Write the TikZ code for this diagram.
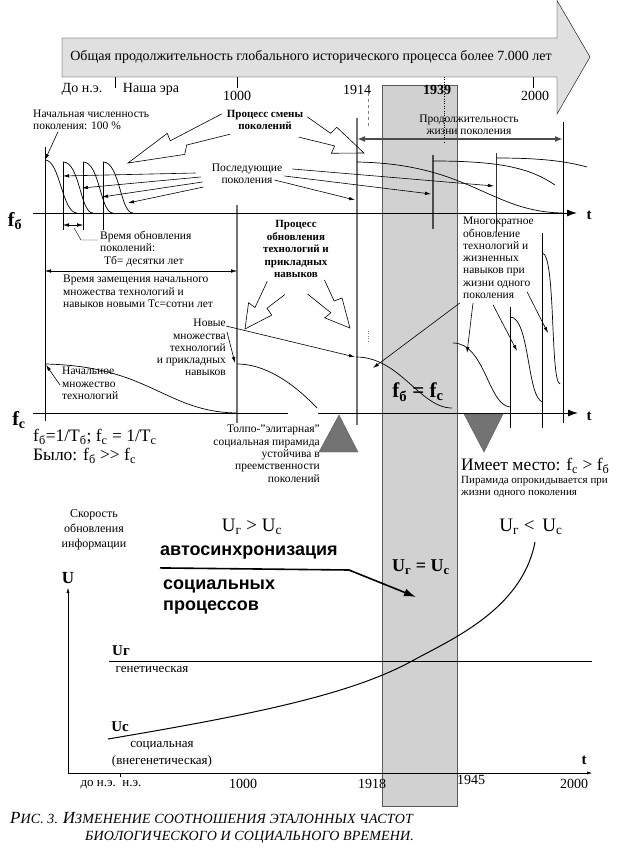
\documentclass[tikz,border=0pt]{standalone}
\usepackage{fontspec}
\setmainfont{Liberation Serif}
\newfontfamily\sansbold{Liberation Sans}
\usetikzlibrary{arrows.meta}
\usetikzlibrary{calc}
\usetikzlibrary{positioning}

\begin{document}
\begin{tikzpicture}[x=1pt, y=-1pt,
  >={Latex[length=6pt,width=3.5pt]},
  lbl/.style={font=\fontsize{11.5}{12.3}\selectfont, inner sep=0pt},
  low/.style={font=\fontsize{13}{15}\selectfont, inner sep=0pt},
  blbl/.style={font=\fontsize{11}{12.5}\selectfont\bfseries, inner sep=0pt, align=center},
  big/.style={font=\fontsize{17.5}{20}\selectfont, inner sep=0pt},
  yr/.style={font=\fontsize{14}{16}\selectfont, inner sep=0pt},
  axlbl/.style={font=\fontsize{20}{22}\selectfont\bfseries, inner sep=0pt},
  tlbl/.style={font=\fontsize{15}{17}\selectfont\bfseries, inner sep=0pt},
  ptr/.style={->, line width=0.6pt},
  ax/.style={-{Latex[length=10pt,width=7pt]}, line width=1pt},
  gline/.style={black!55, line width=1.2pt},
  curve/.style={line width=0.7pt},
  bolt/.style={draw, line width=0.6pt, line join=miter},
  pyr/.style={fill=black!55, draw=black!65}]

\useasboundingbox (0,0) rectangle (621,853);
\fill[white] (0,0) rectangle (621,853);

%period 1918-1945
\draw[draw=black!65, fill=black!18] (382,85) rectangle (457,806);

%time arrow
\draw[fill=black!12] (62,38) -- (557,38) -- (557,0.5) -- (590,57) -- (557,114) -- (557,77) -- (62,77) -- cycle;
\node (total) at (311,57) {\fontsize{14}{16}\selectfont Общая продолжительность глобального исторического процесса более 7.000 лет};
\foreach \x in {115,237,533}
  \draw (\x,77) -- (\x,88);
\node[yr] (bc) at (82,89) {До н.э.};
\node[yr] (ad) at (151,89) {Наша эра};
\node[yr] (y1000) at (237,96) {1000};
\node[yr] (y1914) at (357,90) {1914};
\node[yr, font=\fontsize{14}{16}\selectfont\bfseries] (y1939) at (437,90) {1939};
\node[yr] (y2000) at (535,96) {2000};
\draw[dashed, black!50] (368,93) -- (368,127);
\draw[dotted] (444,77) -- (444,142);

%life of a generation
\node[lbl, align=center] (life) at (469,125) {Продолжительность\\жизни поколения};
\coordinate (l1) at (357,139);
\coordinate (l2) at (563,139);
\draw[{Latex[length=8pt,width=6pt]}-{Latex[length=8pt,width=6pt]}, line width=1.6pt, black!70] (l1) -- (l2);

%verticals
\draw[gline] (357,118) -- (357,425);
\draw[gline] (237,205) -- (237,423);
\draw (563,122) -- (563,423);
\draw[black!70, line width=1.2pt] (433,155) -- (433,229);
\draw[black!80] (496,153) -- (496,232);
\draw (45,147) -- (45,421);
\foreach \x in {63,83,103}
  \draw (\x,162) -- (\x,230);
\draw (510,307) -- (510,428);
\draw (542,233) -- (542,428);

%axes f
\draw[ax] (33,213) -- (577,213);
\node[tlbl] (t1) at (589,215) {t};
\node[axlbl] (fb) at (15,221) {f\textsubscript{б}};
\draw[line width=1pt] (33,413) -- (288,413);
\draw[ax] (318,413) -- (578,413);
\node[tlbl] (t2) at (589,416) {t};
\node[axlbl] (fc) at (19,420) {f\textsubscript{с}};

%generations
\draw[curve] (45,160) .. controls (60,160) and (62,213) .. (77,213);
\foreach \s in {63,83,103}
  \draw[curve] (\s,162) .. controls ({\s+17},162) and ({\s+17},213) .. ({\s+30},213);
\draw[curve] (357,162) .. controls (470,164) and (490,212) .. (563,213);
\draw[curve] (433,161) .. controls (500,161) and (530,168) .. (555,185);
\draw[curve] (496,158) .. controls (540,158) and (565,161) .. (587,167);

%technologies
\draw[curve] (45,364) .. controls (150,366) and (165,412) .. (237,413);
\draw[curve] (237,364) .. controls (270,364) and (300,390) .. (317,408);
\draw[curve] (356,357) .. controls (400,357) and (420,408) .. (452,408);
\draw[curve] (453,343) .. controls (485,343) and (488,405) .. (510,407);
\draw[curve] (510,317) .. controls (530,317) and (527,400) .. (543,402);
\draw[curve] (542,253) .. controls (556,253) and (550,382) .. (560,384);
\draw[dotted, black!50] (368,331) -- (368,343);

%pyramids
\draw[pyr] (339,415) -- (358,452) -- (319,452) -- cycle;
\draw[pyr] (464,414) -- (503,414) -- (484,452) -- cycle;

%lightning arrows
\foreach \sx/\sy/\tx/\ty in {226/124/128/163, 303/127/364/153, 276/288/245/329, 316/287/350/328} {
  \coordinate (bs) at (\sx,\sy);
  \coordinate (bt) at (\tx,\ty);
  \draw[bolt] ($(bs)!11pt!90:(bt)$) -- ($(bs)!.42!(bt)!5pt!90:(bt)$) -- ($(bs)!.47!(bt)!13pt!90:(bt)$)
    -- (bt) -- ($(bs)!.55!(bt)!13pt!-90:(bt)$) -- ($(bs)!.55!(bt)!5pt!-90:(bt)$) -- ($(bs)!11pt!-90:(bt)$);
}

%labels upper part
\node[lbl, align=left, anchor=west] (init) at (33,119.5) {Начальная численность\\поколения: 100~\%};
\coordinate (c0) at (45,160);
\draw[ptr] ([shift={(25,2)}]init.south west) -- (c0);
\node[blbl] (smena) at (265,120) {Процесс смены\\поколений};
\node[lbl, align=center] (posl) at (247,174) {Последующие\\поколения};
\foreach \dx/\dy/\tx/\ty [count=\i] in {-16/-1/63/176, -11/3/82/188, -9/8/102/197, -8/13/128/203} {
  \coordinate (g\i) at (\tx,\ty);
  \draw[ptr] ([shift={(\dx,\dy)}]posl.west) -- (g\i);
}
\foreach \dx/\dy/\tx/\ty [count=\i] in {10/-5/494/186, 2/2/431/194, -8/6/355/200} {
  \coordinate (h\i) at (\tx,\ty);
  \draw[ptr] ([shift={(\dx,\dy)}]posl.east) -- (h\i);
}

\coordinate (tb1) at (63,225);
\coordinate (tb2) at (83,225);
\draw[<->] (tb1) -- (tb2);
\node[lbl, align=left, anchor=north west] (tb) at (100,231) {Время обновления\\поколений:\\\hspace*{4pt}Тб= десятки лет};
\draw (74,228) -- (81,240) -- ([shift={(-2,9)}]tb.north west);

\coordinate (zm1) at (45,271);
\coordinate (zm2) at (237,271);
\draw[<->] (zm1) -- (zm2);
\node[lbl, align=left, anchor=north west] (zam) at (63,275) {Время замещения начального\\множества технологий и\\навыков новыми Тс=сотни лет};

\node[blbl] (obn) at (296,249) {Процесс\\обновления\\технологий и\\прикладных\\навыков};

\node[lbl, align=right, anchor=north east] (novye) at (226,319) {Новые\\множества\\технологий\\и прикладных\\навыков};
\coordinate (n1) at (355,357);
\coordinate (n2) at (235,363);
\draw[ptr] ([shift={(0,7)}]novye.north east) -- (n1);
\draw[ptr] ([shift={(1,13)}]novye.north east) -- (n2);

\node[lbl, align=left, anchor=north west] (nach) at (62,367) {Начальное\\множество\\технологий};
\coordinate (c1) at (46,365);
\draw[ptr] ([shift={(-2,18)}]nach.north west) -- (c1);

\node[font=\fontsize{21}{24}\selectfont\bfseries, inner sep=0pt] (eq) at (418,392) {f\textsubscript{б} = f\textsubscript{с}};

\node[lbl, align=left, anchor=north west] (mnog) at (463,217) {Многократное\\обновление\\технологий и\\жизненных\\навыков при\\жизни одного\\поколения};
\foreach \dx/\dy/\tx/\ty [count=\i] in {10/4/467/353, 30/6/517/351, 64/-7/548/333, -3/4/373/368} {
  \coordinate (m\i) at (\tx,\ty);
  \draw[ptr] ([shift={(\dx,\dy)}]mnog.south west) -- (m\i);
}

%labels lower part
\node[big, anchor=west] (freq) at (33,437) {f\textsubscript{б}=1/Т\textsubscript{б}; f\textsubscript{с} = 1/Т\textsubscript{с}};
\node[big, anchor=west] (bylo) at (33,456) {Было: f\textsubscript{б} >{}> f\textsubscript{с}};
\node[lbl, align=right, anchor=north east] (tolpo) at (320,425) {Толпо-"элитарная"\\социальная пирамида\\устойчива в\\преемственности\\поколений};
\node[big, anchor=west] (imeet) at (461,466) {Имеет место: f\textsubscript{с} > f\textsubscript{б}};
\node[lbl, font=\fontsize{11}{12.5}\selectfont, align=left, anchor=north west] (pir) at (461,476) {Пирамида опрокидывается при\\жизни одного поколения};

%rates U
\node[lbl, font=\fontsize{12}{15}\selectfont, align=center] (skor) at (94,530) {Скорость\\обновления\\информации};
\node[font=\fontsize{17}{18}\selectfont\bfseries, inner sep=0pt] (U) at (68,578) {U};
\coordinate (O) at (68,773);
\coordinate (uy) at (68,588);
\coordinate (ux) at (592,773);
\draw[-{Latex[length=5pt,width=3pt]}] (O) -- (uy);
\draw[-{Latex[length=5pt,width=3pt]}] (O) -- (ux);
\node[tlbl] (t3) at (584,760) {t};
\draw (120,773) -- (120,777);

\node[font=\fontsize{19}{20}\selectfont, inner sep=0pt] (ugt) at (252,527) {U\textsubscript{г} > U\textsubscript{с}};
\node[font=\fontsize{19}{20}\selectfont, inner sep=0pt] (ult) at (531,527) {U\textsubscript{г} <\, U\textsubscript{с}};
\node[font=\fontsize{18}{20}\selectfont\sansbold\bfseries, inner sep=0pt, anchor=west] (avto) at (160,553) {автосинхронизация};
\node[font=\fontsize{18}{20.5}\selectfont\sansbold\bfseries, inner sep=0pt, align=left, anchor=north west] (socp) at (163,580) {социальных\\процессов};
\coordinate (sync) at (416,597);
\draw[-{Latex[length=12pt,width=8pt]}, line width=1.6pt] ([shift={(0,8)}]avto.south west) -- (349,570) -- (sync);
\node[font=\fontsize{18}{20}\selectfont\bfseries, inner sep=0pt] (ueq) at (421,567) {U\textsubscript{г} = U\textsubscript{с}};

\coordinate (ur1) at (109,661);
\coordinate (ur2) at (592,661);
\draw[line width=1pt] (ur1) -- (ur2);
\node[font=\fontsize{15}{17}\selectfont\bfseries, inner sep=0pt] (ur) at (121,651) {Uг};
\node[low] (gen) at (152,669) {генетическая};
\draw[line width=1pt] (108,739) .. controls (250,715) and (350,695) .. (412,661) .. controls (450,640) and (522,610) .. (535,542);
\node[font=\fontsize{15}{17}\selectfont\bfseries, inner sep=0pt] (uc) at (120,727) {Uс};
\node[low] (socl) at (162,746) {социальная};
\node[low] (vneg) at (162,761) {(внегенетическая)};

\node[yr, font=\fontsize{13}{15}\selectfont] (bc2) at (111,785) {до н.э.\ \ н.э.};
\node[yr] (x1000) at (243,784) {1000};
\node[yr] (x1918) at (372,784) {1918};
\node[yr] (x1945) at (471,780) {1945};
\node[yr] (x2000) at (574,784) {2000};

%caption
\node[anchor=west, inner sep=0pt, font=\fontsize{14}{16}\selectfont\itshape\addfontfeatures{LetterSpace=1}] (cap1) at (10,818) {{\fontsize{17}{16}\selectfont Р}ИС. 3. {\fontsize{17}{16}\selectfont И}ЗМЕНЕНИЕ СООТНОШЕНИЯ ЭТАЛОННЫХ ЧАСТОТ};
\node[anchor=west, inner sep=0pt, font=\fontsize{14}{16}\selectfont\itshape\addfontfeatures{LetterSpace=1}] (cap2) at (85,837) {БИОЛОГИЧЕСКОГО И СОЦИАЛЬНОГО ВРЕМЕНИ.};
\end{tikzpicture}
\end{document}
